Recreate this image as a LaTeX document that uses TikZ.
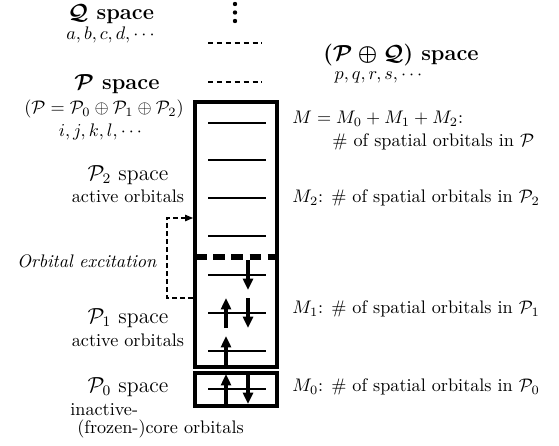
\documentclass[tikz,border=0pt]{standalone}
\usepackage{amsmath, amssymb}
\usepackage{tikz}
\usetikzlibrary{arrows.meta}

\tikzset{
  level/.style={line width=1.2pt},
  spin/.style={line width=1.9pt, -{Triangle[width=5.4pt, length=6.2pt]}},
  frame/.style={line width=2.5pt},
  ghost/.style={line width=1.3pt, dash pattern=on 2.9pt off 2pt}
}

\begin{document}
\begin{tikzpicture}[x=0.55pt, y=-0.55pt, every node/.style={inner sep=0pt}]
  \useasboundingbox (0,0) rectangle (559,445);
  % Q space and empty levels above the box
  \foreach \y in {4, 12.5, 21}
    \fill (235, \y) circle (1.2pt);
  \foreach \y in {43, 82}
    \draw[ghost] (208, \y) -- (262, \y);
  % P space box
  \draw[frame] (195, 102) rectangle (277, 367);
  \draw[frame] (195, 373) rectangle (277, 406);
  \draw[line width=2.8pt, dash pattern=on 6.4pt off 3.6pt] (195, 257) -- (277, 257);
  \foreach \y in {123, 160, 198, 236, 275, 313, 351, 389}
    \draw[level] (208, \y) -- (266, \y);
  \foreach \y in {313, 351, 389}
    \draw[spin] (226, \y + 15) -- (226, \y - 15);
  \foreach \y in {275, 313, 389}
    \draw[spin] (248, \y - 15) -- (248, \y + 15);
  % excitation
  \coordinate (exfrom) at (193, 298);
  \coordinate (exto) at (193, 218);
  \draw[line width=0.6pt, dash pattern=on 2.6pt off 1.8pt, -{Triangle[width=3.6pt, length=4.4pt]}]
    (exfrom) -- ++(-26, 0) |- (exto);
  \node (excite) at (87, 261) {\textit{Orbital excitation}};
  % left labels
  \node (qspace) at (111, 14) {\large\textbf{\boldmath$\mathcal{Q}$ space}};
  \node (qidx) at (112, 35) {$a, b, c, d, \cdots$};
  \node (pspace) at (117, 84) {\large\textbf{\boldmath$\mathcal{P}$ space}};
  \node (psum) at (104, 109) {$(\mathcal{P} = \mathcal{P}_0 \oplus \mathcal{P}_1 \oplus \mathcal{P}_2)$};
  \node (pidx) at (102, 132) {$i, j, k, l, \cdots$};
  \node (ptwo) at (128, 175) {\large$\mathcal{P}_2$ space};
  \node (ptwoact) at (128, 196) {active orbitals};
  \node (pone) at (128, 318) {\large$\mathcal{P}_1$ space};
  \node (poneact) at (128, 340) {active orbitals};
  \node (pzero) at (128, 387) {\large$\mathcal{P}_0$ space};
  \node[anchor=west] (inact) at (70, 410) {inactive-};
  \node[anchor=west] (core) at (77, 429) {(frozen-)core orbitals};
  % right labels
  \node (pq) at (401, 55) {\large\textbf{\boldmath$(\mathcal{P} \oplus \mathcal{Q})$ space}};
  \node (pqidx) at (380, 77) {$p, q, r, s, \cdots$};
  \node[anchor=west] (mtot) at (292, 119) {$M = M_0 + M_1 + M_2$:};
  \node[anchor=west] (mtotb) at (332, 142) {\# of spatial orbitals in $\mathcal{P}$};
  \node[anchor=west] (mtwo) at (292, 198) {$M_2$: \# of spatial orbitals in $\mathcal{P}_2$};
  \node[anchor=west] (mone) at (292, 309) {$M_1$: \# of spatial orbitals in $\mathcal{P}_1$};
  \node[anchor=west] (mzero) at (292, 387) {$M_0$: \# of spatial orbitals in $\mathcal{P}_0$};
\end{tikzpicture}
\end{document}
